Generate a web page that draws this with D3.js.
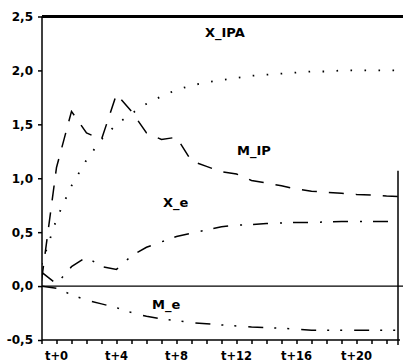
<!DOCTYPE html>
<html>
<head>
<meta charset="utf-8">
<script src="https://cdn.jsdelivr.net/npm/d3@7"></script>
<style>
  body { margin: 0; background: #fff; }
  text { font-family: "DejaVu Sans", sans-serif; font-weight: bold; fill: #000; }
</style>
</head>
<body>
<div id="container"></div>
<script>
const width = 403;
const height = 362;

// periods t-1 .. t+23
const periods = d3.range(-1, 24);
const xIPA = [0.2, 0.62, 0.93, 1.17, 1.36, 1.5, 1.6, 1.69, 1.76, 1.82, 1.86, 1.89, 1.91, 1.93, 1.95, 1.96, 1.97, 1.98, 1.99, 1.99, 2.0, 2.0, 2.0, 2.0, 2.0];
const mIP = [0.05, 1.1, 1.62, 1.42, 1.36, 1.78, 1.62, 1.42, 1.36, 1.38, 1.16, 1.11, 1.06, 1.04, 0.98, 0.955, 0.93, 0.9, 0.88, 0.87, 0.86, 0.85, 0.845, 0.835, 0.83];
const xE = [0.13, 0.02, 0.18, 0.27, 0.18, 0.155, 0.28, 0.36, 0.41, 0.46, 0.49, 0.52, 0.55, 0.565, 0.57, 0.58, 0.585, 0.59, 0.59, 0.595, 0.6, 0.6, 0.6, 0.6, 0.6];
const mE = [0, -0.02, -0.08, -0.13, -0.165, -0.2, -0.245, -0.28, -0.305, -0.32, -0.34, -0.35, -0.36, -0.37, -0.38, -0.385, -0.39, -0.4, -0.41, -0.41, -0.41, -0.41, -0.41, -0.41, -0.41];
const yTicks = [-0.5, 0, 0.5, 1.0, 1.5, 2.0, 2.5];
const xLabelTicks = [0, 4, 8, 12, 16, 20];

const series = [
  { name: "X_IPA", values: xIPA, dash: "1.6,12.4", w: 1.8, lx: 205, ly: 37 },
  { name: "M_IP", values: mIP, dash: "15,12", w: 1.5, lx: 237, ly: 155 },
  { name: "X_e", values: xE, dash: "15,12,2,11", w: 1.5, lx: 163, ly: 207 },
  { name: "M_e", values: mE, dash: "15,11,2,11,2,12", w: 1.5, lx: 152, ly: 309 }
];

const plotLeft = 42, plotRight = 398, plotBottom = 340;

const svg = d3.select("#container").append("svg")
  .attr("width", width)
  .attr("height", height);

const x = d3.scaleLinear().domain([-1, 22.8]).range([41.5, 398.5]);
const y = d3.scaleLinear().domain([-0.5, 2.5]).range([plotBottom, 16.5]);

svg.append("clipPath").attr("id", "plot")
  .append("rect").attr("x", plotLeft).attr("y", 0).attr("width", plotRight - plotLeft).attr("height", height);

// zero line
svg.append("line")
  .attr("x1", plotLeft).attr("x2", width)
  .attr("y1", y(0)).attr("y2", y(0))
  .attr("stroke", "#000").attr("stroke-width", 1.2);

// top frame line
svg.append("line")
  .attr("x1", plotLeft).attr("x2", width)
  .attr("y1", y(2.5)).attr("y2", y(2.5))
  .attr("stroke", "#000").attr("stroke-width", 3);

// right frame (partial)
svg.append("line")
  .attr("x1", plotRight).attr("x2", plotRight)
  .attr("y1", y(1.07)).attr("y2", plotBottom + 5)
  .attr("stroke", "#000").attr("stroke-width", 1.5);

// y axis
const yAxis = svg.append("g")
  .attr("transform", `translate(${plotLeft},0)`)
  .call(d3.axisLeft(y).tickValues(yTicks).tickSize(4).tickPadding(5)
    .tickFormat(d => d3.format(".1f")(d).replace(".", ",").replace("−", "-")));
yAxis.select(".domain").attr("stroke-width", 1.5).attr("d", `M0,${y(2.5)}V${plotBottom}`);
yAxis.selectAll(".tick line").attr("stroke-width", 1.5);
yAxis.selectAll("text").attr("font-size", 12).style("font-family", "DejaVu Sans").style("font-weight", "bold");

// x axis
const xAxis = svg.append("g")
  .attr("transform", `translate(0,${plotBottom})`)
  .call(d3.axisBottom(x).tickValues(d3.range(-1, 23)).tickSize(4).tickFormat(""));
xAxis.select(".domain").attr("stroke-width", 1.5).attr("d", `M${plotLeft},0H${plotRight + 2}`);
xAxis.selectAll(".tick line").attr("stroke-width", 1.5);

svg.append("g").selectAll("text")
  .data(xLabelTicks)
  .enter()
  .append("text")
  .attr("x", d => x(d))
  .attr("y", 360)
  .attr("text-anchor", "middle")
  .attr("font-size", 11.5)
  .text(d => "t+" + d);

// series lines
const line = d3.line()
  .x((d, i) => x(periods[i]))
  .y(d => y(d));

svg.append("g").attr("clip-path", "url(#plot)")
  .selectAll("path")
  .data(series)
  .enter()
  .append("path")
  .attr("d", d => line(d.values))
  .attr("fill", "none")
  .attr("stroke", "#000")
  .attr("stroke-width", d => d.w)
  .attr("stroke-dasharray", d => d.dash);

// series labels
svg.append("g").selectAll("text")
  .data(series)
  .enter()
  .append("text")
  .attr("x", d => d.lx)
  .attr("y", d => d.ly)
  .attr("font-size", 13)
  .text(d => d.name);
</script>
</body>
</html>
